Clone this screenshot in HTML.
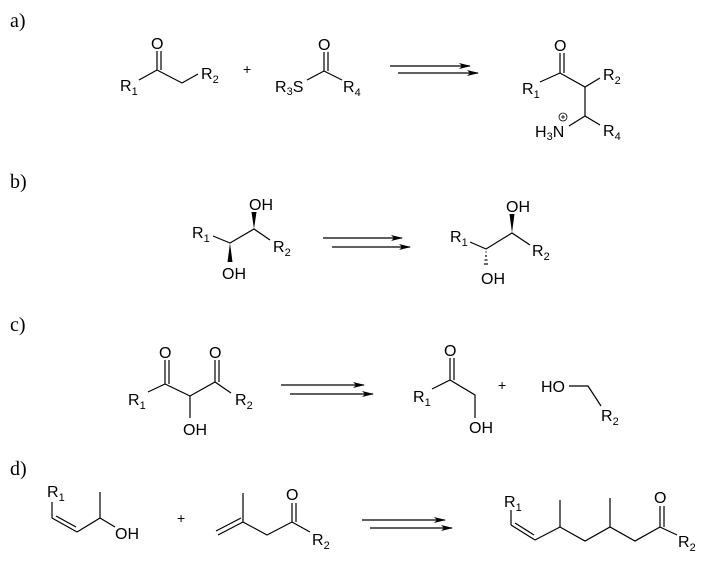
<!DOCTYPE html>
<html><head><meta charset="utf-8"><style>
html,body{margin:0;padding:0;background:#fff;}
svg{display:block;}
</style></head><body>
<svg width="713" height="580" viewBox="0 0 713 580" xmlns="http://www.w3.org/2000/svg">
<defs>
<marker id="ah" markerWidth="12" markerHeight="8" refX="11" refY="4" orient="auto" markerUnits="userSpaceOnUse">
<path d="M0,1 L12,4 L0,7 L3,4 Z" fill="#000"/>
</marker>
</defs>

<g font-family="Liberation Serif, serif" font-size="20" fill="#000" style="font-family:'Liberation Serif',serif;font-size:20px">
<text x="10" y="27">a)</text>
<text x="10" y="188">b)</text>
<text x="10" y="331">c)</text>
<text x="10" y="475">d)</text>
</g>

<g stroke="#000" stroke-width="1.2" fill="none">
<!-- a -->
<polyline points="139,80 157,70 182,83 198,74"/>
<line x1="157" y1="51" x2="157" y2="70"/><line x1="161" y1="51" x2="161" y2="70"/>
<polyline points="307,80 324,71 342,80"/>
<line x1="324" y1="52" x2="324" y2="71"/><line x1="328" y1="52" x2="328" y2="71"/>
<line x1="390" y1="66" x2="470" y2="66" marker-end="url(#ah)"/>
<line x1="398" y1="73" x2="478" y2="73" marker-end="url(#ah)"/>
<polyline points="540,82 560,73 585,87 600,78"/>
<line x1="560" y1="53" x2="560" y2="73"/><line x1="564" y1="53" x2="564" y2="73"/>
<polyline points="585,87 585,116 600,125"/>
<line x1="585" y1="116" x2="569" y2="126"/>
<circle cx="563" cy="117" r="4" stroke-width="0.8"/>
<line x1="561" y1="117" x2="565" y2="117" stroke-width="0.8"/>
<line x1="563" y1="115" x2="563" y2="119" stroke-width="0.8"/>
<!-- b -->
<polyline points="213,236 230,243 254,229 270,240"/>
<line x1="323" y1="238" x2="402" y2="238" marker-end="url(#ah)"/>
<line x1="332" y1="247" x2="410" y2="247" marker-end="url(#ah)"/>
<polyline points="470,242 486,249 512,233 530,245"/>
<line x1="485.5" y1="252" x2="486.5" y2="252"/>
<line x1="485" y1="256" x2="487" y2="256"/>
<line x1="484.5" y1="260" x2="487.5" y2="260"/>
<line x1="484" y1="264" x2="488" y2="264"/>
<!-- c -->
<polyline points="148,392 165,384 190,396 215,382 231,393"/>
<line x1="165" y1="360" x2="165" y2="384"/><line x1="169" y1="360" x2="169" y2="384"/>
<line x1="215" y1="360" x2="215" y2="382"/><line x1="219" y1="360" x2="219" y2="382"/>
<line x1="190" y1="396" x2="190" y2="418"/>
<line x1="281" y1="385" x2="364" y2="385" marker-end="url(#ah)"/>
<line x1="290" y1="394" x2="373" y2="394" marker-end="url(#ah)"/>
<polyline points="432,389 450,380 475,395 475,418"/>
<line x1="450" y1="358" x2="450" y2="380"/><line x1="454" y1="358" x2="454" y2="380"/>
<polyline points="569,386 588,386 601,406"/>
<!-- d -->
<line x1="52" y1="502" x2="52" y2="518"/>
<line x1="52" y1="518" x2="77" y2="532"/>
<line x1="56" y1="516" x2="76" y2="527"/>
<polyline points="77,532 100,518 100,492"/>
<line x1="100" y1="518" x2="115" y2="527"/>
<line x1="218" y1="535" x2="243" y2="522"/>
<line x1="216" y1="531" x2="241" y2="518"/>
<polyline points="243,493 243,522 267,535 292,522 310,532"/>
<line x1="292" y1="503" x2="292" y2="522"/><line x1="296" y1="503" x2="296" y2="522"/>
<line x1="362" y1="520" x2="445" y2="520" marker-end="url(#ah)"/>
<line x1="370" y1="528" x2="452" y2="528" marker-end="url(#ah)"/>
<line x1="511" y1="510" x2="511" y2="525"/>
<line x1="511" y1="525" x2="535" y2="540"/>
<line x1="515" y1="523" x2="534" y2="535"/>
<polyline points="535,540 560,527 585,541 610,527 635,541 660,527 677,535"/>
<line x1="560" y1="500" x2="560" y2="527"/>
<line x1="610" y1="498" x2="610" y2="527"/>
<line x1="660" y1="506" x2="660" y2="527"/><line x1="664" y1="506" x2="664" y2="527"/>
</g>
<g fill="#000">
<polygon points="254,229 251.5,212 256.5,212"/>
<polygon points="230,243 227.5,262 232.5,262"/>
<polygon points="512,233 509.5,214 514.5,214"/>
</g>

<g font-family="Liberation Sans, Arial, sans-serif" font-size="16" fill="#000" style="font-family:'Liberation Sans',Arial,sans-serif;font-size:16px">
<!-- a -->
<text x="151" y="49">O</text>
<text x="120" y="91">R<tspan font-size="11" style="font-size:11px" dy="4">1</tspan></text>
<text x="201" y="79">R<tspan font-size="11" style="font-size:11px" dy="4">2</tspan></text>
<text x="243" y="74" font-size="14" style="font-size:14px">+</text>
<text x="318" y="50">O</text>
<text x="275" y="92">R<tspan font-size="11" style="font-size:11px" dy="3">3</tspan><tspan dy="-3">S</tspan></text>
<text x="343" y="92">R<tspan font-size="11" style="font-size:11px" dy="4">4</tspan></text>
<text x="554" y="51">O</text>
<text x="522" y="94">R<tspan font-size="11" style="font-size:11px" dy="4">1</tspan></text>
<text x="603" y="80">R<tspan font-size="11" style="font-size:11px" dy="4">2</tspan></text>
<text x="535" y="137">H<tspan font-size="11" style="font-size:11px" dy="3">3</tspan><tspan dy="-3">N</tspan></text>
<text x="603" y="136">R<tspan font-size="11" style="font-size:11px" dy="4">4</tspan></text>
<!-- b -->
<text x="192" y="238">R<tspan font-size="11" style="font-size:11px" dy="4">1</tspan></text>
<text x="273" y="252">R<tspan font-size="11" style="font-size:11px" dy="4">2</tspan></text>
<text x="249" y="210">OH</text>
<text x="222" y="279">OH</text>
<text x="450" y="242">R<tspan font-size="11" style="font-size:11px" dy="4">1</tspan></text>
<text x="532" y="256">R<tspan font-size="11" style="font-size:11px" dy="4">2</tspan></text>
<text x="506" y="212">OH</text>
<text x="481" y="284">OH</text>
<!-- c -->
<text x="159" y="358">O</text>
<text x="209" y="358">O</text>
<text x="128" y="405">R<tspan font-size="11" style="font-size:11px" dy="4">1</tspan></text>
<text x="235" y="405">R<tspan font-size="11" style="font-size:11px" dy="4">2</tspan></text>
<text x="183" y="435">OH</text>
<text x="444" y="356">O</text>
<text x="413" y="402">R<tspan font-size="11" style="font-size:11px" dy="4">1</tspan></text>
<text x="469" y="433">OH</text>
<text x="498" y="390" font-size="14" style="font-size:14px">+</text>
<text x="541" y="392">HO</text>
<text x="601" y="421">R<tspan font-size="11" style="font-size:11px" dy="4">2</tspan></text>
<!-- d -->
<text x="47" y="497">R<tspan font-size="11" style="font-size:11px" dy="4">1</tspan></text>
<text x="115" y="539">OH</text>
<text x="177" y="523" font-size="14" style="font-size:14px">+</text>
<text x="286" y="500">O</text>
<text x="312" y="545">R<tspan font-size="11" style="font-size:11px" dy="4">2</tspan></text>
<text x="654" y="503">O</text>
<text x="504" y="507">R<tspan font-size="11" style="font-size:11px" dy="4">1</tspan></text>
<text x="678" y="547">R<tspan font-size="11" style="font-size:11px" dy="4">2</tspan></text>
</g>
</svg>
</body></html>
